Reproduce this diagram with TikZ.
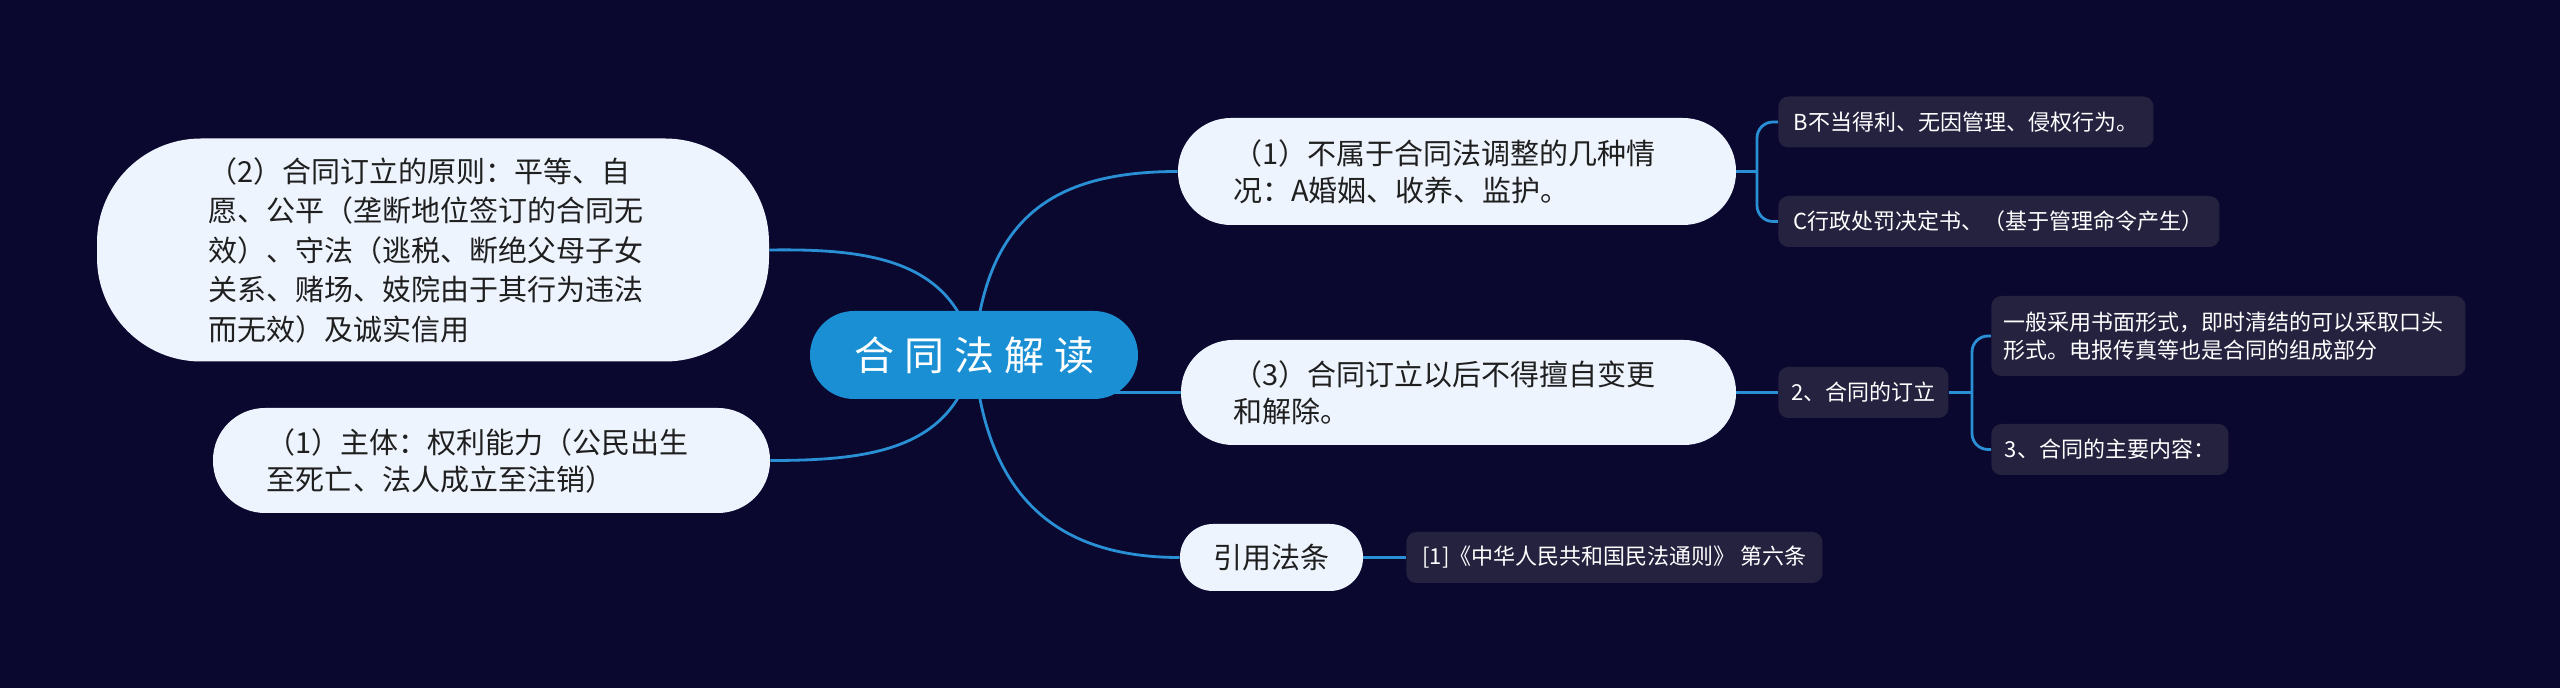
\documentclass[tikz,border=0pt]{standalone}
\usepackage{fontspec}
\setmainfont{Noto Sans CJK SC}
\usetikzlibrary{backgrounds}
\definecolor{cBack}{HTML}{0B0830}
\definecolor{cHub}{HTML}{1A8FD3}
\definecolor{cPill}{HTML}{EEF4FE}
\definecolor{cLeaf}{HTML}{25223F}
\definecolor{cLink}{HTML}{2A90D6}
\newcommand{\hubgap}{\hspace{5pt}}

\begin{document}
\begin{tikzpicture}[
  x=0.5pt, y=-0.5pt,
  hub/.style={rectangle, rounded corners=22pt, fill=cHub, text=white,
              minimum width=164pt, minimum height=44pt, inner sep=0pt,
              font=\fontsize{20pt}{24pt}\selectfont},
  pill/.style={rectangle, fill=cPill, text=black!88, align=left, inner sep=0pt,
               font=\fontsize{14.5pt}{18.5pt}\selectfont},
  leaf/.style={rectangle, rounded corners=5pt, fill=cLeaf, text=white, anchor=west,
               minimum height=25.5pt, inner xsep=6pt, inner ysep=0pt,
               font=\fontsize{11pt}{14pt}\selectfont},
  link/.style={draw=cLink, line width=1.4pt},
]
\useasboundingbox (0,0) rectangle (2560,688);

% =========================== centre ===========================
\node[hub] (hub) at (974,355) {合\hubgap 同\hubgap 法\hubgap 解\hubgap 读};

% =========================== left branches ===========================
\node[pill, rounded corners=52pt, minimum width=336pt, minimum height=111.5pt, text width=225pt,
      font=\fontsize{14.5pt}{19.75pt}\selectfont]
  (yuanze) at (433,250) {（2）合同订立的原则：平等、自\\愿、公平（垄断地位签订的合同无\\效）、守法（逃税、断绝父母子女\\关系、赌场、妓院由于其行为违法\\而无效）及诚实信用};
\node[pill, rounded corners=26pt, minimum width=278.5pt, minimum height=52.5pt, text width=225.5pt]
  (zhuti) at (491.5,460.5) {（1）主体：权利能力（公民出生\\至死亡、法人成立至注销）};

% =========================== right branches ===========================
\node[pill, rounded corners=26.5pt, minimum width=279pt, minimum height=53.5pt, text width=224pt]
  (buzhu) at (1457,171.5) {（1）不属于合同法调整的几种情\\况：A婚姻、收养、监护。};
\node[pill, rounded corners=26pt, minimum width=277.5pt, minimum height=52.5pt, text width=225.5pt]
  (biangeng) at (1458.5,392.5) {（3）合同订立以后不得擅自变更\\和解除。};
\node[pill, rounded corners=16.5pt, minimum width=91.5pt, minimum height=33.5pt, align=center]
  (yinyong) at (1271.5,557.5) {引用法条};

% leaves
\node[leaf, minimum width=187.5pt] (budang)    at (1778,122)   {B不当得利、无因管理、侵权行为。};
\node[leaf, minimum width=220.5pt] (xingzheng) at (1778,221.5) {C行政处罚决定书、（基于管理命令产生）};
\node[leaf, minimum width=85pt]    (dingli)    at (1778,392.5) {2、合同的订立};
\node[leaf, minimum width=236pt, minimum height=40pt, text width=225pt, align=left]
  (shumian) at (1991,336) {一般采用书面形式，即时清结的可以采取口头\\形式。电报传真等也是合同的组成部分};
\node[leaf, minimum width=118.5pt] (neirong)   at (1991,449.5) {3、合同的主要内容：};
\node[leaf, minimum width=208pt]   (fatiao)    at (1406,557.5) {[1]《中华人民共和国民法通则》 第六条};

\begin{scope}[on background layer]
  \fill[cBack] (0,0) rectangle (2560,688);
  % curves out of the centre
  \draw[link] (hub.center) .. controls (955,260) and (870,248.5) .. (yuanze.east);
  \draw[link] (hub.center) .. controls (955,450) and (870,460.5) .. (zhuti.east);
  \draw[link] (hub.center) .. controls (985,220) and (1050,171.5) .. (buzhu.west);
  \draw[link] (hub.center) .. controls (985,490) and (1050,557.5) .. (yinyong.west);
  \draw[link] (hub.center |- biangeng.west) -- (biangeng.west);
  % brackets to the leaves
  \draw[link] (buzhu.east) -- ++(21,0);
  \draw[link, rounded corners=8pt] (budang.west) -- ++(-21,0) |- (xingzheng.west);
  \draw[link] (biangeng.east) -- (dingli.west);
  \draw[link] (dingli.east) -- ++(24,0);
  \draw[link, rounded corners=8pt] (shumian.west) -- ++(-19,0) |- (neirong.west);
  \draw[link] (yinyong.east) -- (fatiao.west);
\end{scope}

\end{tikzpicture}
\end{document}
